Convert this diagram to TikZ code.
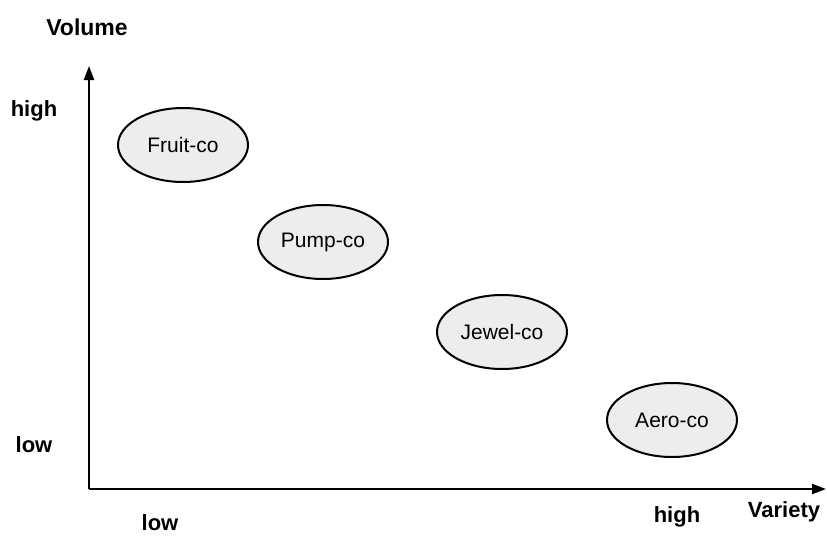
\documentclass[tikz,border=0pt]{standalone}
\usepackage{fontspec}
\setmainfont{Liberation Sans}
\usetikzlibrary{shapes.geometric,arrows.meta}
\begin{document}
\begin{tikzpicture}[x=1pt,y=-1pt,
  firm/.style={ellipse,draw,line width=2pt,fill=black!7,minimum width=130pt,minimum height=74pt,inner sep=0pt,font=\fontsize{21}{24}\selectfont},
  lab/.style={font=\bfseries\fontsize{22}{25}\selectfont,inner sep=0pt},
  axis/.style={line width=2.2pt,-{Triangle[length=14pt,width=10pt]}}]
\useasboundingbox (0,0) rectangle (827,538);
\coordinate (o) at (89,489);
\coordinate (ytip) at (89,66);
\coordinate (xtip) at (826,489);
\draw[axis] (o) -- (ytip);
\draw[axis] (o) -- (xtip);
\node[firm] (fruit) at (183,145) {Fruit-co};
\node[firm] (pump) at (323,242) {Pump-co};
\node[firm] (jewel) at (502,332) {Jewel-co};
\node[firm] (aero) at (672,420) {Aero-co};
\node[lab,font=\bfseries\fontsize{23}{26}\selectfont] (vol) at (87,27) {Volume};
\node[lab] (yhigh) at (34,111) {high};
\node[lab] (ylow) at (34,445) {low};
\node[lab] (xlow) at (160,523) {low};
\node[lab] (xhigh) at (677,517) {high};
\node[lab] (var) at (784,512) {Variety};
\end{tikzpicture}
\end{document}
